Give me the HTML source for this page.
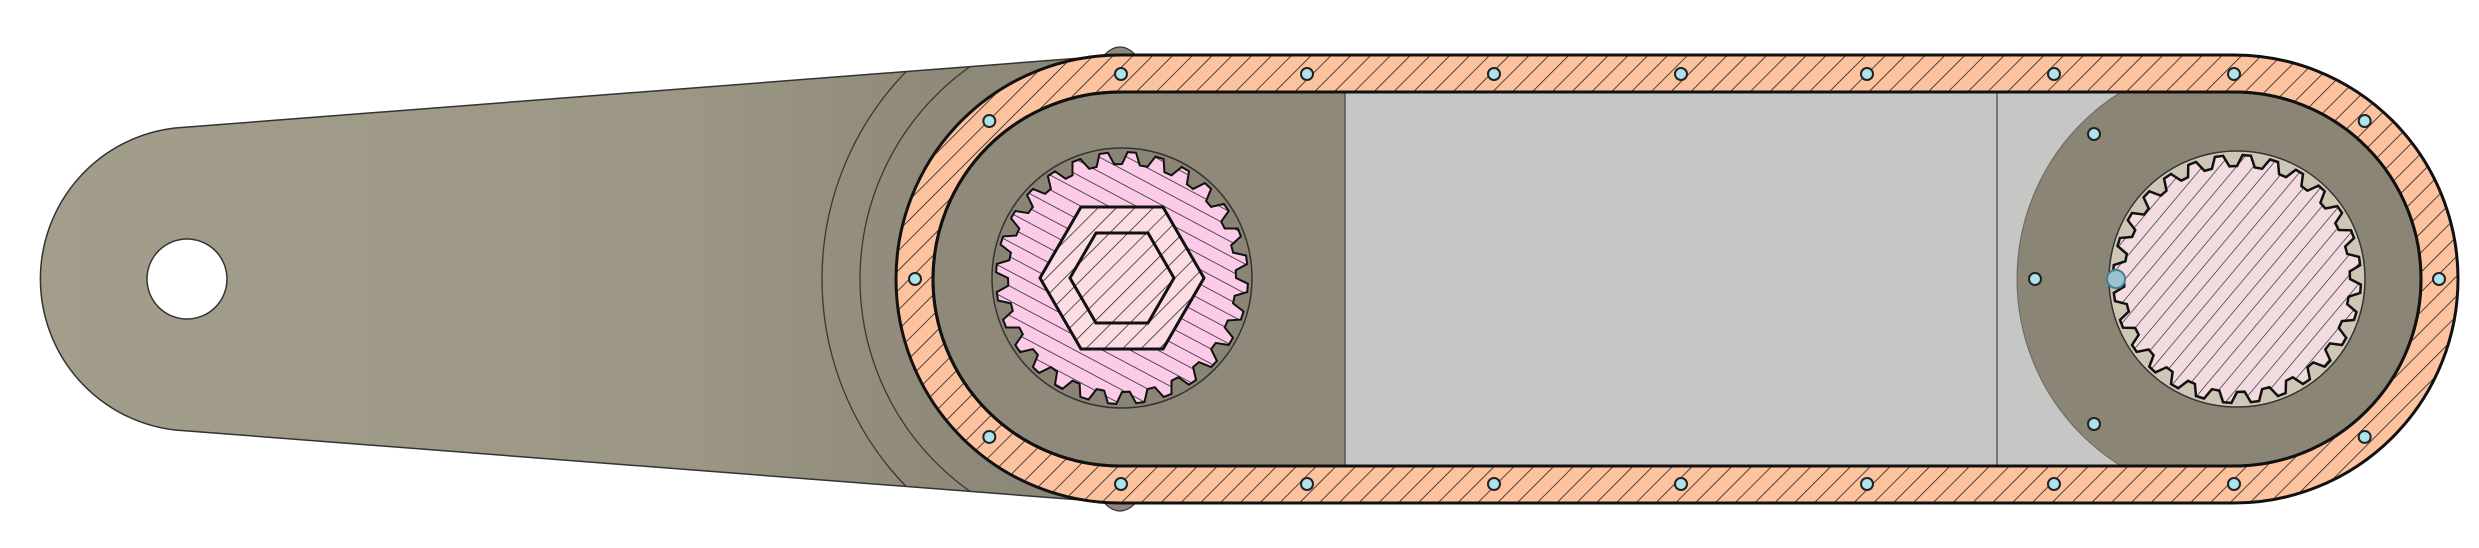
<!DOCTYPE html>
<html><head><meta charset="utf-8"><style>
html,body{margin:0;padding:0;background:#fff;width:2479px;height:548px;overflow:hidden}
svg{display:block}
</style></head><body>
<svg id="cad" width="2479" height="548" viewBox="0 0 2479 548" xmlns="http://www.w3.org/2000/svg">
<defs>
<linearGradient id="armGrad" x1="0" x2="1" y1="0" y2="0">
<stop offset="0" stop-color="#a39d8c"/><stop offset="0.6" stop-color="#9c9684"/><stop offset="0.8" stop-color="#918b7b"/><stop offset="1" stop-color="#8a8475"/>
</linearGradient>
<pattern id="hatchBelt" width="14" height="14" patternUnits="userSpaceOnUse" patternTransform="rotate(45)">
<rect width="14" height="14" fill="#fdc39f"/><line x1="0" y1="0" x2="0" y2="14" stroke="#222" stroke-width="1.6"/>
</pattern>
<pattern id="hatchGear" width="13" height="13" patternUnits="userSpaceOnUse" patternTransform="rotate(-62)">
<rect width="13" height="13" fill="#fccbe7"/><line x1="0" y1="0" x2="0" y2="13" stroke="#222" stroke-width="1.5"/>
</pattern>
<pattern id="hatchHex" width="13" height="13" patternUnits="userSpaceOnUse" patternTransform="rotate(45)">
<rect width="13" height="13" fill="#fddde4"/><line x1="0" y1="0" x2="0" y2="13" stroke="#222" stroke-width="1.5"/>
</pattern>
<pattern id="hatchRight" width="13" height="13" patternUnits="userSpaceOnUse" patternTransform="rotate(40)">
<rect width="13" height="13" fill="#f2dce0"/><line x1="0" y1="0" x2="0" y2="13" stroke="#222" stroke-width="1.3"/>
</pattern>
<clipPath id="armClip"><path d="M175,128 L1120,55 L1120,503 L175,430 A152,152 0 0 1 175,128 Z"/></clipPath>
<clipPath id="innerClip"><path d="M1120,92 H2234 A187,187 0 0 1 2234,466 H1120 A187,187 0 0 1 1120,92 Z"/></clipPath>
</defs>

<g>
<path d="M175,128 L1120,55 L1120,503 L175,430 A152,152 0 0 1 175,128 Z" fill="url(#armGrad)" stroke="#333" stroke-width="1.5"/>
<g clip-path="url(#armClip)" fill="none" stroke="#3a382f" stroke-width="1.3">
<circle cx="1120" cy="279" r="298"/><circle cx="1120" cy="279" r="260"/>
</g>
<circle cx="187" cy="279" r="40" fill="#fff" stroke="#333" stroke-width="1.5"/>
</g>

<ellipse cx="1120" cy="279" rx="60" ry="232" fill="#8e887a" stroke="#333" stroke-width="1.2"/>

<g>
<path d="M1120,55 H2234 A224,224 0 0 1 2234,503 H1120 A224,224 0 0 1 1120,55 Z" fill="url(#hatchBelt)" stroke="#111" stroke-width="3"/>
<path d="M1120,92 H2234 A187,187 0 0 1 2234,466 H1120 A187,187 0 0 1 1120,92 Z" fill="#8f897a" stroke="#111" stroke-width="3"/>
<g clip-path="url(#innerClip)">
<rect x="1345" y="92" width="1100" height="374" fill="#c6c6c4"/>
<line x1="1997" y1="92" x2="1997" y2="466" stroke="#777" stroke-width="2"/>
<circle cx="2237" cy="279" r="220" fill="#8b8575" stroke="#666" stroke-width="1"/>
<line x1="1345" y1="92" x2="1345" y2="466" stroke="#555" stroke-width="1.5"/>
</g>
<path d="M1120,92 H2234 A187,187 0 0 1 2234,466 H1120 A187,187 0 0 1 1120,92 Z" fill="none" stroke="#111" stroke-width="3"/>
</g>

<g>
<circle cx="1122" cy="278" r="130" fill="#8a8475" stroke="#333" stroke-width="1.5"/>
<path id="gearL" fill="url(#hatchGear)" stroke="#111" stroke-width="2"/>
<polygon id="hexOut" fill="url(#hatchHex)" stroke="#111" stroke-width="3"/>
<polygon id="hexIn" fill="url(#hatchHex)" stroke="#111" stroke-width="3"/>
</g>

<g>
<circle cx="2237" cy="279" r="128" fill="#cfc7b6" stroke="#333" stroke-width="1.5"/>
<path id="gearR" fill="url(#hatchRight)" stroke="#111" stroke-width="2.5"/>
<circle cx="2116" cy="279" r="9" fill="#9dc3cf" stroke="#4a7f9a" stroke-width="2"/>
</g>

<g id="bolts"></g>
</svg>
<script>
var NS='http://www.w3.org/2000/svg';
function gear(id,cx,cy,rOut,rIn,n){
  var d='';
  for(var i=0;i<n;i++){
    var a0=i*2*Math.PI/n, s=2*Math.PI/n;
    var pts=[[rIn,a0],[rOut,a0+s*0.2],[rOut,a0+s*0.5],[rIn,a0+s*0.7]];
    pts.forEach(function(p,j){
      var x=cx+p[0]*Math.cos(p[1]),y=cy+p[0]*Math.sin(p[1]);
      d+=(i==0&&j==0?'M':'L')+x.toFixed(1)+','+y.toFixed(1);
    });
  }
  document.getElementById(id).setAttribute('d',d+'Z');
}
gear('gearL',1122,278,126,114,28);
gear('gearR',2237,279,124,113,28);
function hex(id,cx,cy,r){
  var p=[];for(var i=0;i<6;i++){var a=i*Math.PI/3;p.push((cx+r*Math.cos(a)).toFixed(1)+','+(cy+r*Math.sin(a)).toFixed(1));}
  document.getElementById(id).setAttribute('points',p.join(' '));
}
hex('hexOut',1122,278,82);hex('hexIn',1122,278,52);
var g=document.getElementById('bolts');
var pts=[];
[1121,1307,1494,1681,1867,2054,2234].forEach(function(x){pts.push([x,74]);pts.push([x,484]);});
[[-Math.PI*0.72],[Math.PI],[Math.PI*0.72]].forEach(function(a){pts.push([1120+205*Math.cos(a[0]),279-205*Math.sin(a[0])]);});
[Math.PI*0.28,0,-Math.PI*0.28].forEach(function(a){pts.push([2234+205*Math.cos(a),279-205*Math.sin(a)]);});
pts.push([2094,134]);pts.push([2035,279]);pts.push([2094,424]);
pts.forEach(function(p){
  var c=document.createElementNS(NS,'circle');
  c.setAttribute('cx',p[0]);c.setAttribute('cy',p[1]);c.setAttribute('r',6);
  c.setAttribute('fill','#aee3ec');c.setAttribute('stroke','#222');c.setAttribute('stroke-width','2');
  
  
  g.appendChild(c);
});
</script>
</body></html>
